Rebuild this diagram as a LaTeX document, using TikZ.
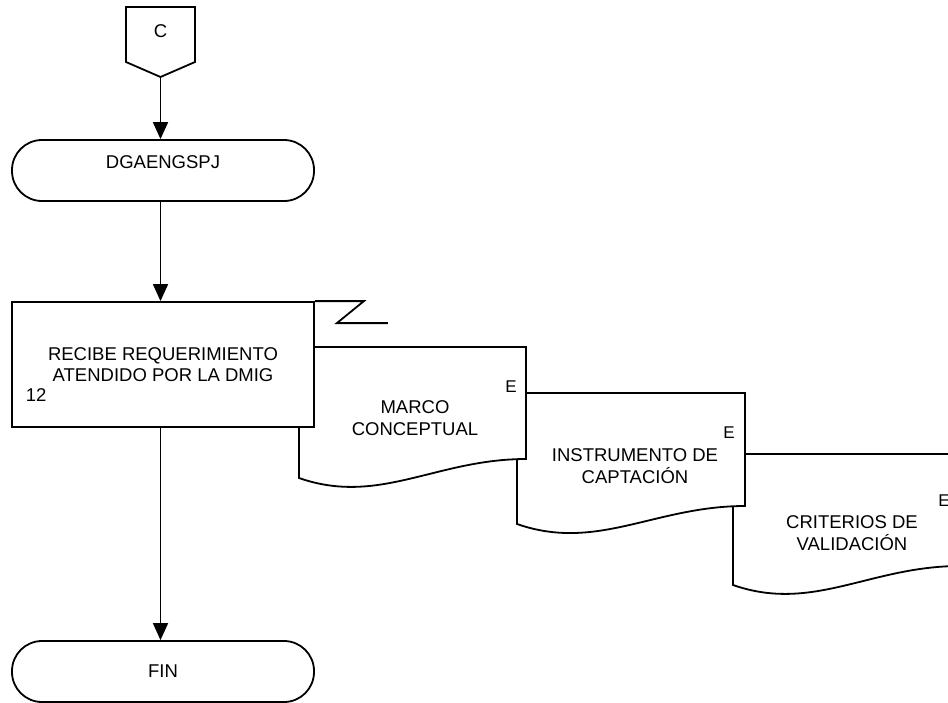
\documentclass[tikz,border=0pt]{standalone}
\usepackage{fontspec}
\setmainfont{Liberation Sans}
\usetikzlibrary{arrows.meta}

\begin{document}
\begin{tikzpicture}[x=1pt,y=-1pt,line width=1.8pt,
  font=\fontsize{18.5}{21.5}\selectfont,
  flecha/.style={-{Triangle[length=17pt,width=15pt]}},
  terminal/.style={draw,rounded corners=30pt,minimum width=302pt,minimum height=61pt,inner sep=0pt},
  proceso/.style={draw,fill=white,minimum width=302pt,minimum height=125pt,align=center,inner sep=0pt},
  documento/.style={draw,fill=white,line join=miter},
  etiqueta/.style={inner sep=0pt,align=center}]
  \useasboundingbox (0,0) rectangle (948,702);
  \clip (0,0) rectangle (948,702);

  % conector fuera de pagina
  \draw (126,7) -- (195,7) -- (195,62) -- (160.5,77) coordinate (tipC) -- (126,62) -- cycle;
  \node[etiqueta] (conC) at (160.5,31) {C};

  \node[terminal] (dgae) at (163,170.5) {};
  \node[etiqueta] (dgaetxt) at (163,162) {DGAENGSPJ};

  % documentos
  \draw[documento] (733,454) -- ++(227,0) -- ++(0,112) .. controls +(-90,0) and +(80,28) .. (733,585) -- cycle;
  \node[etiqueta] (criterios) at (852,533) {CRITERIOS DE\\VALIDACIÓN};
  \node[etiqueta,font=\fontsize{17}{20}\selectfont] (e3) at (944,501) {E};

  \draw[documento] (517,393) -- ++(228,0) -- ++(0,113) .. controls +(-90,0) and +(80,28) .. (517,524) -- cycle;
  \node[etiqueta] (instrumento) at (635,466) {INSTRUMENTO DE\\CAPTACIÓN};
  \node[etiqueta,font=\fontsize{17}{20}\selectfont] (e2) at (729,432.5) {E};

  \draw[documento] (299,347) -- ++(227,0) -- ++(0,112) .. controls +(-90,0) and +(80,28) .. (299,478) -- cycle;
  \node[etiqueta] (marco) at (415,418) {MARCO\\CONCEPTUAL};
  \node[etiqueta,font=\fontsize{17}{20}\selectfont] (e1) at (511,387) {E};

  % actividad 12
  \node[proceso] (recibe) at (163,364.5) {RECIBE REQUERIMIENTO\\ATENDIDO POR LA DMIG};
  \node[etiqueta,anchor=west] (paso) at (25,395) {12};
  \draw (recibe.north east) -- ++(49,0) -- ++(-27,22) -- ++(51,0);

  \node[terminal] (fin) at (163,671.5) {FIN};

  \draw[flecha] (tipC) -- (tipC |- dgae.north);
  \draw[flecha] (dgae.south -| tipC) -- (recibe.north -| tipC);
  \draw[flecha] (recibe.south -| tipC) -- (fin.north -| tipC);
\end{tikzpicture}
\end{document}
